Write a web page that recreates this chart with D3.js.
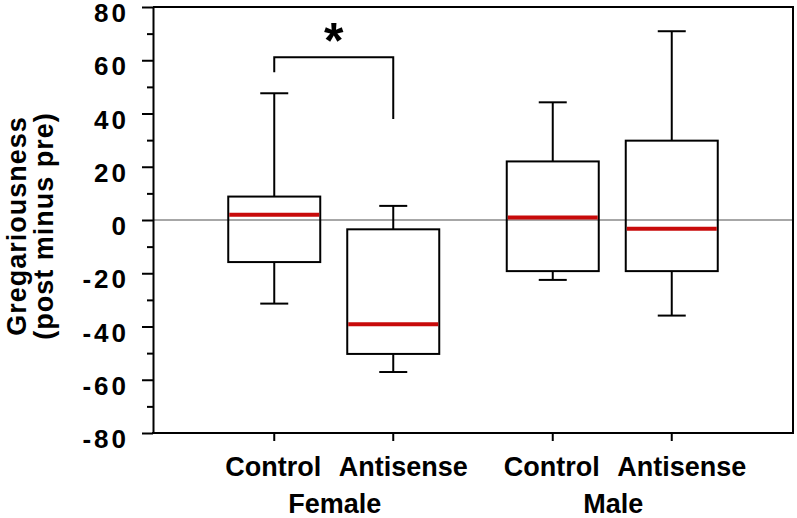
<!DOCTYPE html>
<html><head><meta charset="utf-8">
<script src="https://cdn.jsdelivr.net/npm/d3@7"></script>
<style>
html,body{margin:0;padding:0;background:#fff;}
svg{display:block;}
text{font-family:"Liberation Sans",Arial,Helvetica,sans-serif;fill:#000;}
</style></head>
<body><svg id="chart" width="797" height="518"></svg>
<script>
const groups = ["Female", "Male"];
const treatments = ["Control", "Antisense"];
const boxGroup = ["Female", "Female", "Male", "Male"];
const boxTreatment = ["Control", "Antisense", "Control", "Antisense"];
const whiskerLow = [-31.4, -57.1, -22.5, -35.9];
const q1 = [-15.8, -50.3, -19.2, -19.2];
const median = [2.0, -39.2, 0.9, -3.3];
const q3 = [8.8, -3.5, 22.0, 29.8];
const whiskerHigh = [47.6, 5.3, 44.2, 70.9];
const yTicks = [-80, -60, -40, -20, 0, 20, 40, 60, 80];
const yMinorTicks = [-70, -50, -30, -10, 10, 30, 50, 70];
const sigLeft = 55.5, sigTop = 61.1, sigRight = 37.9;

const svg = d3.select("#chart");
const L = 153, R = 793, T = 7, B = 433;

const y = d3.scaleLinear().domain([-80, 80]).range([B, T]);
const xg = d3.scalePoint().domain(groups).range([L, R]).padding(0.649);
const xt = d3.scalePoint().domain(treatments).range([-59.5, 59.5]);
const xc = i => xg(boxGroup[i]) + xt(boxTreatment[i]);

// zero line
svg.append("line").attr("x1", L).attr("x2", R).attr("y1", y(0)).attr("y2", y(0))
  .attr("stroke", "#8a8a8a").attr("stroke-width", 1.5);

// frame top/right
svg.append("path").attr("d", `M${L},${T}H${R}V${B}`).attr("fill", "none")
  .attr("stroke", "#000").attr("stroke-width", 2);

// y axis
const yAxis = svg.append("g").attr("transform", `translate(${L},0)`)
  .call(d3.axisLeft(y).tickValues(yTicks).tickSize(11).tickPadding(13).tickSizeOuter(0)
    .tickFormat(d => String(d)));
yAxis.select(".domain").attr("stroke-width", 2);
yAxis.selectAll(".tick line").attr("stroke-width", 2);
yAxis.selectAll(".tick text").attr("font-size", 26).attr("letter-spacing", "3px")
  .attr("font-weight", "bold")
  .attr("font-family", "Liberation Sans, Arial, sans-serif").attr("dy", "0.56em");
const yMinor = svg.append("g").attr("transform", `translate(${L},0)`)
  .call(d3.axisLeft(y).tickValues(yMinorTicks).tickSize(6).tickFormat("").tickSizeOuter(0));
yMinor.select(".domain").remove();
yMinor.selectAll(".tick line").attr("stroke-width", 2);

// x axis
const xAxis = svg.append("g").attr("transform", `translate(0,${B})`);
xAxis.append("line").attr("x1", L - 1).attr("x2", R + 1).attr("stroke", "#000").attr("stroke-width", 2);
boxGroup.forEach((g, i) => {
  xAxis.append("line").attr("x1", xc(i)).attr("x2", xc(i)).attr("y1", 0).attr("y2", 8)
    .attr("stroke", "#000").attr("stroke-width", 2);
  xAxis.append("text").attr("x", xc(i) + (boxTreatment[i] === "Antisense" ? 10 : -1)).attr("y", 43)
    .attr("text-anchor", "middle").attr("font-size", 27).attr("font-weight", "bold")
    .text(boxTreatment[i]);
});
groups.forEach(g => {
  xAxis.append("text").attr("x", xg(g) + 1).attr("y", 80).attr("text-anchor", "middle")
    .attr("font-size", 27).attr("font-weight", "bold").text(g);
});

// y title
const yt = svg.append("text").attr("transform", "translate(26,226) rotate(-90)")
  .attr("text-anchor", "middle").attr("font-size", 27).attr("font-weight", "bold")
  .attr("letter-spacing", "1px");
yt.append("tspan").attr("x", 0).attr("y", 0).text("Gregariousness");
yt.append("tspan").attr("x", 0).attr("y", 27).text("(post minus pre)");

// boxes
const bw = 92, cw = 28;
boxGroup.forEach((g, i) => {
  const cx = xc(i);
  const gg = svg.append("g");
  gg.append("line").attr("x1", cx).attr("x2", cx).attr("y1", y(q3[i])).attr("y2", y(whiskerHigh[i]))
    .attr("stroke", "#000").attr("stroke-width", 2);
  gg.append("line").attr("x1", cx).attr("x2", cx).attr("y1", y(q1[i])).attr("y2", y(whiskerLow[i]))
    .attr("stroke", "#000").attr("stroke-width", 2);
  gg.append("line").attr("x1", cx - cw / 2).attr("x2", cx + cw / 2).attr("y1", y(whiskerHigh[i])).attr("y2", y(whiskerHigh[i]))
    .attr("stroke", "#000").attr("stroke-width", 2);
  gg.append("line").attr("x1", cx - cw / 2).attr("x2", cx + cw / 2).attr("y1", y(whiskerLow[i])).attr("y2", y(whiskerLow[i]))
    .attr("stroke", "#000").attr("stroke-width", 2);
  gg.append("rect").attr("x", cx - bw / 2).attr("width", bw).attr("y", y(q3[i])).attr("height", y(q1[i]) - y(q3[i]))
    .attr("fill", "none").attr("stroke", "#000").attr("stroke-width", 2);
  gg.append("line").attr("x1", cx - bw / 2 + 1).attr("x2", cx + bw / 2 - 1).attr("y1", y(median[i])).attr("y2", y(median[i]))
    .attr("stroke", "#c80a0a").attr("stroke-width", 4);
});

// significance bracket
const x0 = xc(0), x1 = xc(1);
svg.append("path").attr("d", `M${x0},${y(sigLeft)}V${y(sigTop)}H${x1}V${y(sigRight)}`)
  .attr("fill", "none").attr("stroke", "#000").attr("stroke-width", 2);
svg.append("text").attr("x", (x0 + x1) / 2).attr("y", 58).attr("text-anchor", "middle")
  .attr("font-size", 50).attr("font-weight", "bold").text("*");
</script></body></html>
